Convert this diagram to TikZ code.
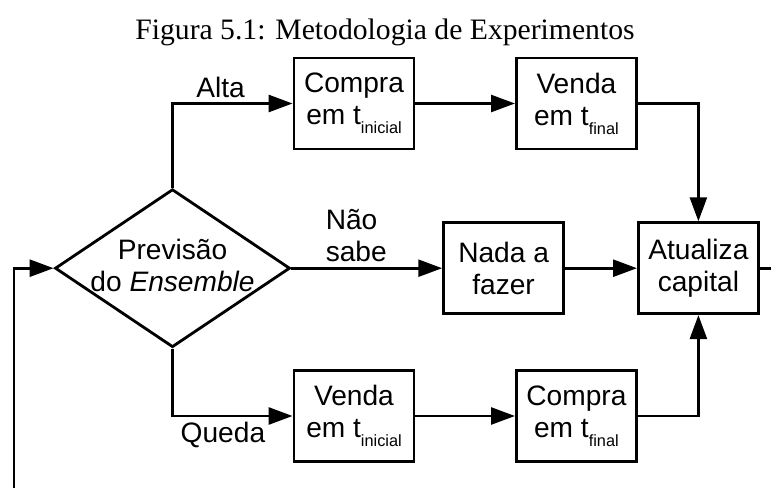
\documentclass[tikz,border=0pt]{standalone}
\usepackage{fontspec}
\setmainfont{Liberation Serif}
\setsansfont{Liberation Sans}
\usetikzlibrary{shapes.geometric, arrows.meta}
\newcommand{\subtxt}[1]{\raisebox{-6.4pt}{\fontsize{11.6}{12}\selectfont #1}}

\begin{document}
\begin{tikzpicture}[
  box/.style={draw, line width=2pt, minimum width=3cm, minimum height=2.275cm, align=center},
  decision/.style={diamond, draw, line width=2pt, minimum width=5.875cm, minimum height=3.95cm, inner sep=0pt},
  flow/.style={-{Triangle[length=17pt,width=12pt]}, line width=2pt},
  every node/.append style={font=\sffamily\fontsize{20}{22.8}\selectfont}
]
\useasboundingbox (0,0) rectangle (19.275,12.175);

% Caption
\node[anchor=base, font=\rmfamily\fontsize{21.1}{25}\selectfont] (caption) at (9.625,11.175) {Figura 5.1: Metodologia de Experimentos};

% Decision
\node[decision] (prev) at (4.3125,5.47) {};
\node[align=center] (prevtxt) at (4.3125,5.55) {Previsão\\do \textit{Ensemble}};

% Upper branch
\node[box] (compraA) at (8.85,9.5875) {Compra\\em t\subtxt{inicial}};
\node[box] (vendaA) at (14.41,9.5875) {Venda\\em t\subtxt{final}};

% Middle branch
\node[box] (nada) at (12.59,5.47) {Nada a\\fazer};
\node[box] (atual) at (17.46,5.47) {Atualiza\\capital};

% Lower branch
\node[box] (vendaB) at (8.85,1.775) {Venda\\em t\subtxt{inicial}};
\node[box] (compraB) at (14.41,1.775) {Compra\\em t\subtxt{final}};

% Loose ends
\coordinate (outR) at (19.3,5.47);
\coordinate (inL) at (0.35,-0.05);

% Connectors
\draw[flow] (prev.north) |- (compraA.west) node[pos=0.7, above] (alta) {Alta};
\draw[flow] (compraA) -- (vendaA);
\draw[flow] (vendaA.east) -| (atual.north);

\draw[flow] (prev.east) -- (nada.west) node[pos=0.43, above, align=left] (naosabe) {Não\\sabe};
\draw[flow] (nada) -- (atual);
\draw[line width=2pt] (atual.east) -- (outR);

\draw[flow] (prev.south) |- (vendaB.west) node[pos=0.71, below] (queda) {Queda};
\draw[flow] (vendaB) -- (compraB);
\draw[flow] (compraB.east) -| (atual.south);

\draw[flow] (inL) |- (prev.west);
\end{tikzpicture}
\end{document}
